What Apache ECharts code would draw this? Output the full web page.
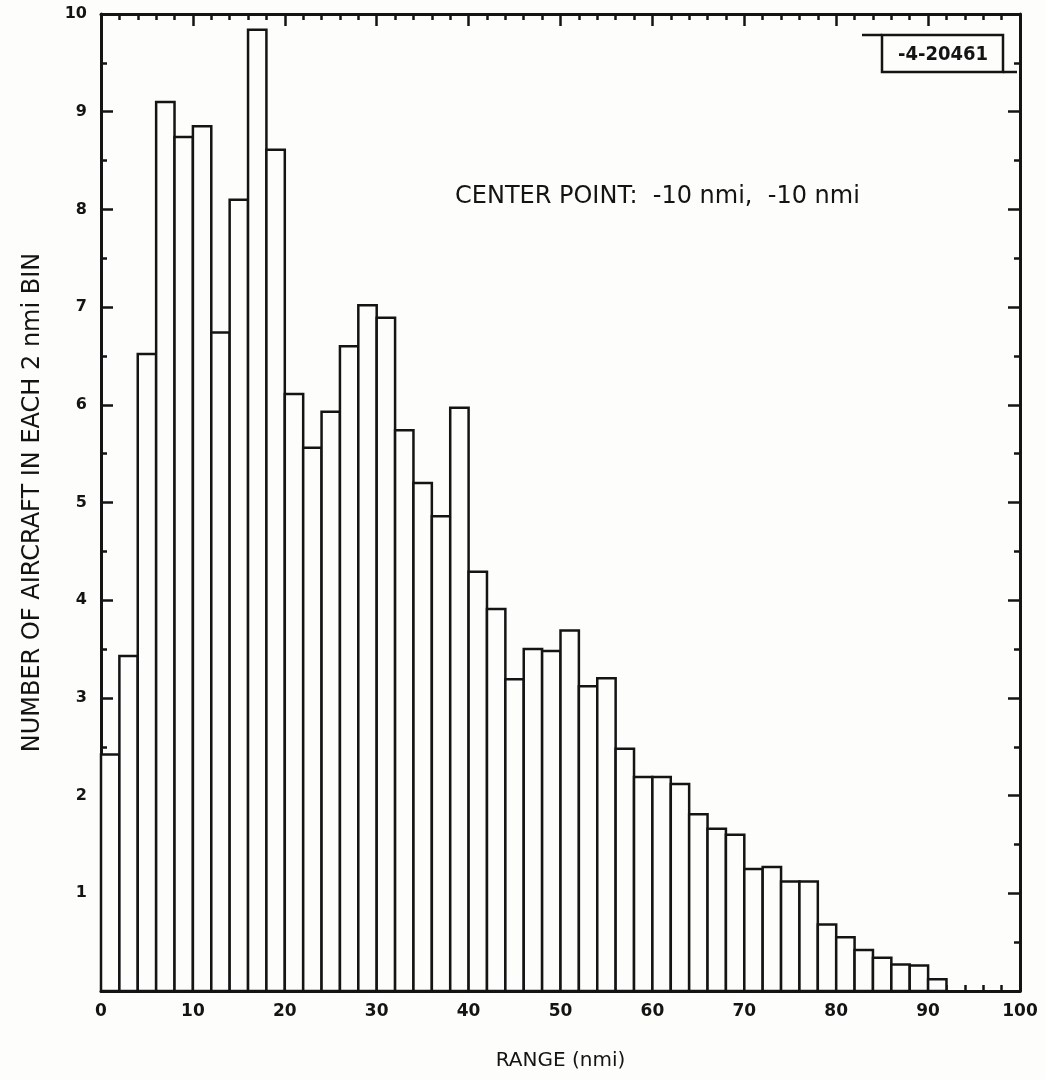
<!DOCTYPE html>
<html>
<head>
<meta charset="utf-8">
<title>Aircraft range histogram</title>
<script src="https://cdn.jsdelivr.net/npm/echarts@6/dist/echarts.min.js"></script>
<style>
  html, body { margin: 0; padding: 0; background: #fdfdfb; }
  #chart { width: 1046px; height: 1080px; }
</style>
</head>
<body>
<div id="chart"></div>
<script>
// Range bins (start of each 2 nmi bin)
const binStarts = [0, 2, 4, 6, 8, 10, 12, 14, 16, 18,
                   20, 22, 24, 26, 28, 30, 32, 34, 36, 38,
                   40, 42, 44, 46, 48, 50, 52, 54, 56, 58,
                   60, 62, 64, 66, 68, 70, 72, 74, 76, 78,
                   80, 82, 84, 86, 88, 90];
const BIN_WIDTH = 2;

// Mean number of aircraft in each bin
const aircraftCounts = [2.42, 3.43, 6.52, 9.10, 8.74, 8.85, 6.74, 8.10, 9.84, 8.61,
                        6.11, 5.56, 5.93, 6.60, 7.02, 6.89, 5.74, 5.20, 4.86, 5.97,
                        4.29, 3.91, 3.19, 3.50, 3.48, 3.69, 3.12, 3.20, 2.48, 2.19,
                        2.19, 2.12, 1.81, 1.66, 1.60, 1.25, 1.27, 1.12, 1.12, 0.68,
                        0.55, 0.42, 0.34, 0.27, 0.26, 0.12];

const xTickLabels = ['0', '10', '20', '30', '40', '50', '60', '70', '80', '90', '100'];
const yTickLabels = ['', '1', '2', '3', '4', '5', '6', '7', '8', '9', '10'];

const xTitle = 'RANGE (nmi)';
const yTitle = 'NUMBER OF AIRCRAFT IN EACH 2 nmi BIN';
const centerNote = 'CENTER POINT:  -10 nmi,  -10 nmi';
const figureId = '-4-20461';

const INK = '#141414';
const PAPER = '#fdfdfb';
const LABEL_FONT = 'DejaVu Sans';

const histogramData = binStarts.map((s, i) => [s, aircraftCounts[i]]);

const chart = echarts.init(document.getElementById('chart'));

const frameLine = { show: true, onZero: false, lineStyle: { color: INK, width: 3 } };
const majorTick = { show: true, inside: true, length: 12, lineStyle: { color: INK, width: 2.5 } };
const minorTick = { show: true, length: 6, lineStyle: { color: INK, width: 2.5 } };

chart.setOption({
  backgroundColor: PAPER,
  animation: false,
  grid: { left: 101, right: 26, top: 14, bottom: 89, containLabel: false },
  xAxis: [
    {
      type: 'value', position: 'bottom', min: 0, max: 100, interval: 10,
      axisLine: frameLine, axisTick: majorTick,
      minorTick: Object.assign({ splitNumber: 5 }, minorTick),
      splitLine: { show: false },
      axisLabel: {
        margin: 12, color: INK, fontFamily: LABEL_FONT, fontSize: 17, fontWeight: 'bold',
        formatter: (v) => xTickLabels[Math.round(v / 10)]
      },
      name: xTitle, nameLocation: 'middle', nameGap: 60,
      nameTextStyle: { color: INK, fontFamily: LABEL_FONT, fontSize: 20 }
    },
    {
      type: 'value', position: 'top', min: 0, max: 100, interval: 10,
      axisLine: frameLine, axisTick: majorTick,
      minorTick: Object.assign({ splitNumber: 5 }, minorTick),
      splitLine: { show: false }, axisLabel: { show: false }
    }
  ],
  yAxis: [
    {
      type: 'value', position: 'left', min: 0, max: 10, interval: 1,
      axisLine: frameLine, axisTick: majorTick,
      minorTick: Object.assign({ splitNumber: 2 }, minorTick),
      splitLine: { show: false },
      axisLabel: {
        margin: 14, color: INK, fontFamily: LABEL_FONT, fontSize: 16, fontWeight: 'bold',
        formatter: (v) => yTickLabels[Math.round(v)]
      },
      name: yTitle, nameLocation: 'middle', nameGap: 56, nameRotate: 90,
      nameTextStyle: { color: INK, fontFamily: LABEL_FONT, fontSize: 24 }
    },
    {
      type: 'value', position: 'right', min: 0, max: 10, interval: 1,
      axisLine: frameLine, axisTick: majorTick,
      minorTick: Object.assign({ splitNumber: 2 }, minorTick),
      splitLine: { show: false }, axisLabel: { show: false }
    }
  ],
  series: [
    {
      type: 'custom',
      xAxisIndex: 0, yAxisIndex: 0,
      data: histogramData,
      encode: { x: 0, y: 1 },
      renderItem: function (params, api) {
        const start = api.value(0);
        const count = api.value(1);
        const base = api.coord([start, 0]);
        const top = api.coord([start + BIN_WIDTH, count]);
        return {
          type: 'rect',
          shape: { x: base[0], y: top[1], width: top[0] - base[0], height: base[1] - top[1] },
          style: { fill: PAPER, stroke: INK, lineWidth: 2.5 }
        };
      }
    }
  ],
  graphic: [
    {
      type: 'text', x: 455, y: 197,
      style: { text: centerNote, fill: INK, font: '24px "DejaVu Sans"', textVerticalAlign: 'middle' }
    },
    {
      type: 'rect',
      shape: { x: 882, y: 35, width: 121, height: 37 },
      style: { fill: 'none', stroke: INK, lineWidth: 2.5 }
    },
    {
      type: 'line', shape: { x1: 862, y1: 35, x2: 882, y2: 35 },
      style: { stroke: INK, lineWidth: 2.5 }
    },
    {
      type: 'line', shape: { x1: 1003, y1: 72, x2: 1017, y2: 72 },
      style: { stroke: INK, lineWidth: 2.5 }
    },
    {
      type: 'text', x: 943, y: 55,
      style: {
        text: figureId, fill: INK, font: 'bold 20px "DejaVu Sans Condensed", "DejaVu Sans", sans-serif',
        textAlign: 'center', textVerticalAlign: 'middle'
      }
    }
  ]
});
</script>
</body>
</html>
